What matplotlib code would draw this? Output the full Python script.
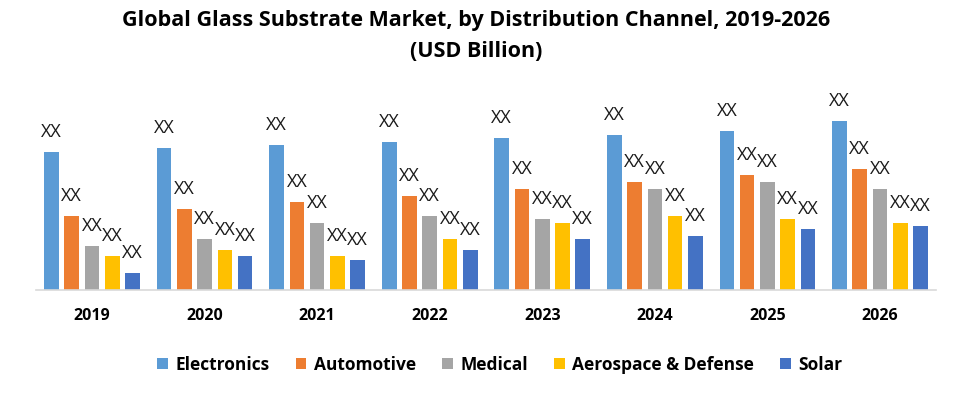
import matplotlib
matplotlib.use("Agg")
import matplotlib.pyplot as plt
import numpy as np

years = ["2019", "2020", "2021", "2022", "2023", "2024", "2025", "2026"]
series_names = ["Electronics", "Automotive", "Medical", "Aerospace & Defense", "Solar"]
electronics = [138, 142, 145, 148, 152, 155, 159, 169]
automotive = [74, 81, 88, 94, 101, 108, 115, 121]
medical = [44, 51, 67, 74, 71, 101, 108, 101]
aerospace = [34, 40, 34, 51, 67, 74, 71, 67]
solar = [17, 34, 30, 40, 51, 54, 61, 64]
bar_label = "XX"

colors = ["#5b9bd5", "#ed7d31", "#a5a5a5", "#ffc000", "#4472c4"]
values = [electronics, automotive, medical, aerospace, solar]

plt.rcParams['font.family'] = ['Open Sans', 'DejaVu Sans']

fig = plt.figure(figsize=(9.58, 3.94), dpi=100)
ax = fig.add_axes([0.0373, 1 - 290 / 394, 0.94, 200 / 394])

x = np.arange(len(years))
pitch = 0.18
width = 0.13
for i, (name, vals, c) in enumerate(zip(series_names, values, colors)):
    pos = x + (i - 2) * pitch
    ax.bar(pos, vals, width=width, color=c, label=name, zorder=2)
    for px, v in zip(pos, vals):
        ax.annotate(bar_label, (px, v), xytext=(0, 8), textcoords="offset points",
                    ha="center", va="bottom", fontsize=13, color="#1a1a1a")

ax.set_xlim(-0.5, len(years) - 0.5)
ax.set_ylim(0, 200)
ax.set_xticks(x)
ax.set_xticklabels(years, fontsize=11.5, fontweight="bold")
ax.tick_params(axis="x", length=0, pad=13)
ax.set_yticks([])
for s in ["top", "right", "left"]:
    ax.spines[s].set_visible(False)
ax.spines["bottom"].set_color("#d9d9d9")
ax.spines["bottom"].set_linewidth(1.2)

fig.text(0.497, 0.947, "Global Glass Substrate Market, by Distribution Channel, 2019-2026",
         ha="center", va="center", fontsize=15.5, fontweight="bold")
fig.text(0.497, 0.87, "(USD Billion)", ha="center", va="center", fontsize=15.5, fontweight="bold")

leg = fig.legend(loc="center", bbox_to_anchor=(0.522, 1 - 365 / 394), ncol=5, frameon=False,
                 prop={"size": 12.5, "weight": "bold"}, handlelength=0.6, handleheight=0.6,
                 handletextpad=0.45, columnspacing=1.5)

fig.savefig("out.png", dpi=100)
